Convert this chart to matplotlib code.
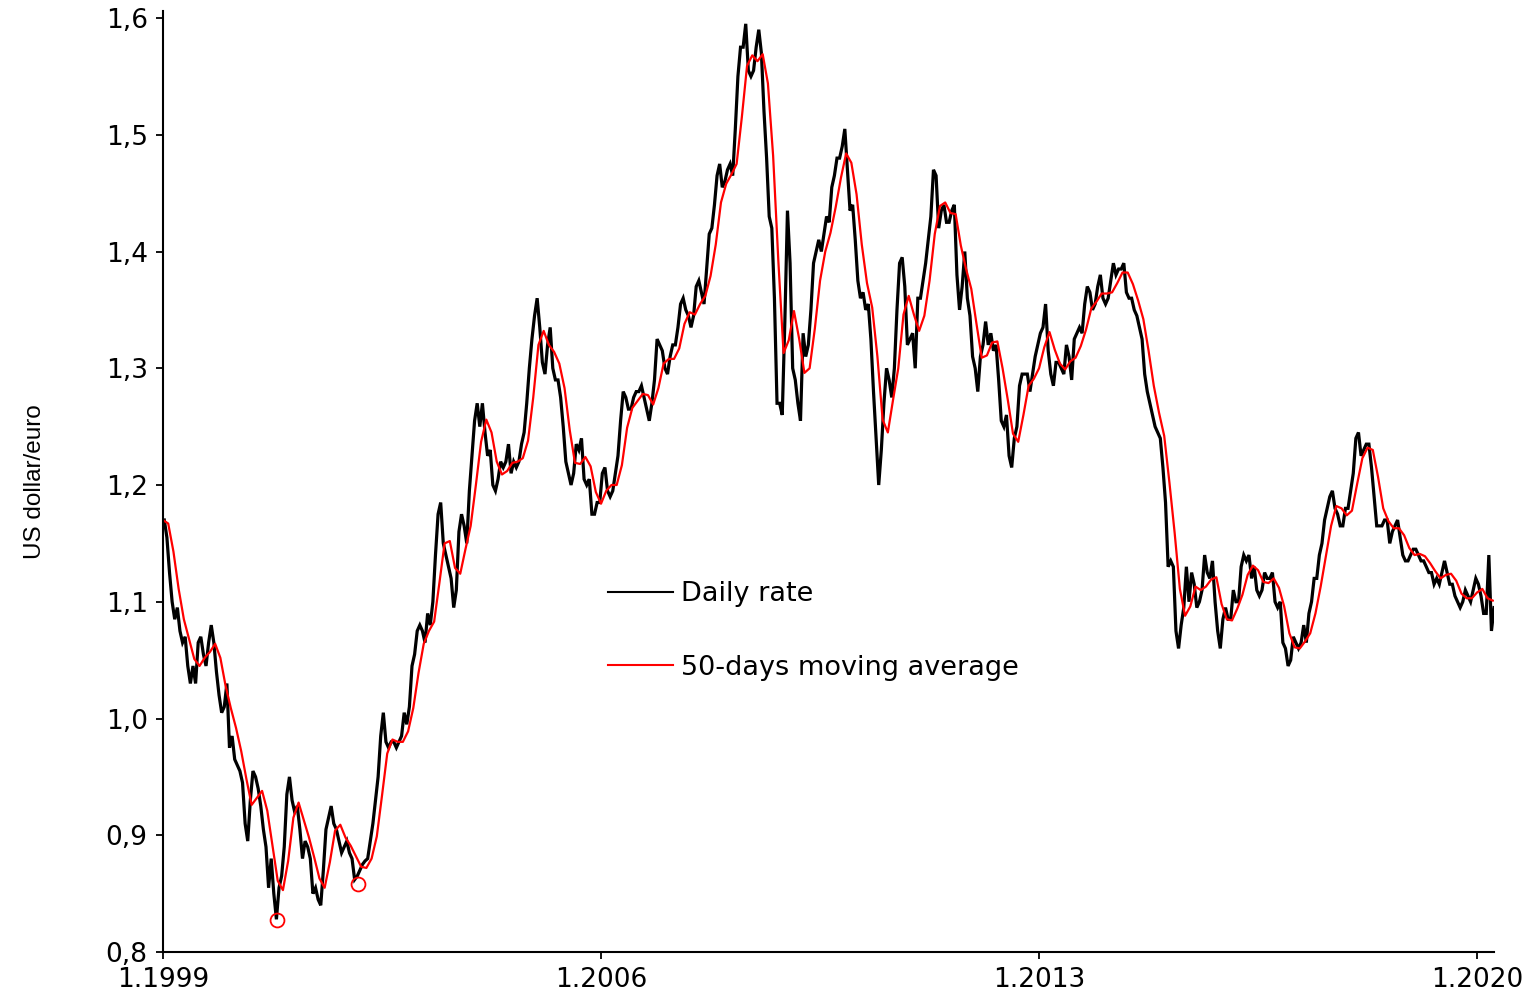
import matplotlib.pyplot as plt
import numpy as np

# USD per EUR, two readings per month (first half / second half), Jan 1999 - Apr 2020
daily_rate = [
    # 1999
    1.170, 1.155, 1.125, 1.100, 1.085, 1.095, 1.075, 1.065, 1.070, 1.045, 1.030, 1.045,
    1.030, 1.065, 1.070, 1.055, 1.045, 1.065, 1.080, 1.065, 1.040, 1.020, 1.005, 1.010,
    # 2000
    1.030, 0.975, 0.985, 0.965, 0.960, 0.955, 0.945, 0.910, 0.895, 0.930, 0.955, 0.950,
    0.940, 0.925, 0.905, 0.890, 0.855, 0.880, 0.850, 0.828, 0.855, 0.865, 0.890, 0.935,
    # 2001
    0.950, 0.930, 0.920, 0.925, 0.905, 0.880, 0.895, 0.890, 0.880, 0.850, 0.855, 0.845,
    0.840, 0.870, 0.905, 0.915, 0.925, 0.910, 0.905, 0.895, 0.885, 0.890, 0.895, 0.885,
    # 2002
    0.880, 0.862, 0.865, 0.870, 0.875, 0.878, 0.880, 0.895, 0.910, 0.930, 0.950, 0.985,
    1.005, 0.980, 0.975, 0.980, 0.980, 0.975, 0.980, 0.985, 1.005, 0.995, 1.010, 1.045,
    # 2003
    1.055, 1.075, 1.080, 1.075, 1.065, 1.090, 1.080, 1.100, 1.140, 1.175, 1.185, 1.150,
    1.140, 1.130, 1.120, 1.095, 1.110, 1.160, 1.175, 1.165, 1.150, 1.195, 1.225, 1.255,
    # 2004
    1.270, 1.250, 1.270, 1.245, 1.225, 1.230, 1.200, 1.195, 1.205, 1.220, 1.215, 1.220,
    1.235, 1.210, 1.220, 1.215, 1.220, 1.235, 1.245, 1.270, 1.300, 1.325, 1.345, 1.360,
    # 2005
    1.335, 1.305, 1.295, 1.320, 1.335, 1.300, 1.290, 1.290, 1.275, 1.250, 1.220, 1.210,
    1.200, 1.210, 1.235, 1.230, 1.240, 1.205, 1.200, 1.205, 1.175, 1.175, 1.185, 1.185,
    # 2006
    1.210, 1.215, 1.195, 1.190, 1.195, 1.210, 1.225, 1.255, 1.280, 1.275, 1.265, 1.265,
    1.275, 1.280, 1.280, 1.285, 1.275, 1.265, 1.255, 1.270, 1.290, 1.325, 1.320, 1.315,
    # 2007
    1.300, 1.295, 1.310, 1.320, 1.320, 1.335, 1.355, 1.360, 1.350, 1.345, 1.335, 1.345,
    1.370, 1.375, 1.365, 1.355, 1.385, 1.415, 1.420, 1.440, 1.465, 1.475, 1.455, 1.460,
    # 2008
    1.470, 1.475, 1.465, 1.505, 1.550, 1.575, 1.575, 1.595, 1.555, 1.550, 1.555, 1.575,
    1.590, 1.570, 1.520, 1.480, 1.430, 1.420, 1.360, 1.270, 1.270, 1.260, 1.340, 1.435,
    # 2009
    1.390, 1.300, 1.290, 1.270, 1.255, 1.330, 1.310, 1.320, 1.350, 1.390, 1.400, 1.410,
    1.400, 1.415, 1.430, 1.425, 1.455, 1.465, 1.480, 1.480, 1.490, 1.505, 1.470, 1.435,
    # 2010
    1.440, 1.410, 1.375, 1.360, 1.365, 1.350, 1.355, 1.325, 1.280, 1.240, 1.200, 1.230,
    1.270, 1.300, 1.290, 1.275, 1.300, 1.350, 1.390, 1.395, 1.370, 1.320, 1.325, 1.330,
    # 2011
    1.300, 1.360, 1.360, 1.375, 1.390, 1.410, 1.430, 1.470, 1.465, 1.420, 1.435, 1.440,
    1.425, 1.425, 1.435, 1.440, 1.380, 1.350, 1.370, 1.400, 1.360, 1.345, 1.310, 1.300,
    # 2012
    1.280, 1.310, 1.320, 1.340, 1.320, 1.330, 1.315, 1.320, 1.290, 1.255, 1.250, 1.260,
    1.225, 1.215, 1.240, 1.250, 1.285, 1.295, 1.295, 1.295, 1.280, 1.295, 1.310, 1.320,
    # 2013
    1.330, 1.335, 1.355, 1.315, 1.295, 1.285, 1.305, 1.305, 1.300, 1.295, 1.320, 1.310,
    1.290, 1.325, 1.330, 1.335, 1.330, 1.355, 1.370, 1.365, 1.350, 1.355, 1.370, 1.380,
    # 2014
    1.360, 1.355, 1.360, 1.375, 1.390, 1.380, 1.385, 1.385, 1.390, 1.365, 1.360, 1.360,
    1.350, 1.345, 1.335, 1.325, 1.295, 1.280, 1.270, 1.260, 1.250, 1.245, 1.240, 1.215,
    # 2015
    1.185, 1.130, 1.135, 1.130, 1.075, 1.060, 1.080, 1.095, 1.130, 1.100, 1.125, 1.115,
    1.095, 1.100, 1.110, 1.140, 1.125, 1.120, 1.135, 1.100, 1.075, 1.060, 1.085, 1.095,
    # 2016
    1.085, 1.085, 1.110, 1.100, 1.100, 1.130, 1.140, 1.135, 1.140, 1.120, 1.130, 1.110,
    1.105, 1.110, 1.125, 1.120, 1.120, 1.125, 1.100, 1.095, 1.100, 1.065, 1.060, 1.045,
    # 2017
    1.050, 1.070, 1.065, 1.060, 1.065, 1.080, 1.065, 1.090, 1.100, 1.120, 1.120, 1.140,
    1.150, 1.170, 1.180, 1.190, 1.195, 1.180, 1.175, 1.165, 1.165, 1.180, 1.180, 1.195,
    # 2018
    1.210, 1.240, 1.245, 1.225, 1.230, 1.235, 1.235, 1.215, 1.190, 1.165, 1.165, 1.165,
    1.170, 1.170, 1.150, 1.160, 1.165, 1.170, 1.155, 1.140, 1.135, 1.135, 1.140, 1.145,
    # 2019
    1.145, 1.140, 1.135, 1.135, 1.130, 1.125, 1.125, 1.115, 1.120, 1.115, 1.125, 1.135,
    1.125, 1.115, 1.115, 1.105, 1.100, 1.095, 1.100, 1.110, 1.105, 1.100, 1.110, 1.120,
    # 2020
    1.115, 1.105, 1.090, 1.090, 1.140, 1.075, 1.095,
]

# 50-day moving average, one value at the start of each month (1.1999 ... 4.2020)
moving_avg = [
    1.170,
    1.167, 1.143, 1.111, 1.085, 1.068, 1.051, 1.045, 1.052, 1.057, 1.064, 1.052, 1.028,
    1.009, 0.992, 0.972, 0.948, 0.926, 0.932, 0.938, 0.921, 0.891, 0.861, 0.853, 0.878,
    0.915, 0.928, 0.913, 0.898, 0.881, 0.863, 0.855, 0.877, 0.904, 0.909, 0.898, 0.891,
    0.882, 0.873, 0.872, 0.880, 0.899, 0.934, 0.970, 0.982, 0.980, 0.980, 0.989, 1.009,
    1.039, 1.064, 1.075, 1.083, 1.116, 1.150, 1.152, 1.129, 1.124, 1.145, 1.165, 1.200,
    1.237, 1.256, 1.245, 1.220, 1.209, 1.212, 1.219, 1.220, 1.223, 1.238, 1.275, 1.320,
    1.332, 1.320, 1.314, 1.304, 1.283, 1.247, 1.219, 1.218, 1.224, 1.216, 1.194, 1.184,
    1.195, 1.200, 1.200, 1.217, 1.249, 1.266, 1.272, 1.278, 1.277, 1.269, 1.283, 1.304,
    1.308, 1.308, 1.317, 1.338, 1.348, 1.346, 1.355, 1.362, 1.379, 1.406, 1.442, 1.458,
    1.466, 1.475, 1.515, 1.559, 1.568, 1.563, 1.569, 1.544, 1.482, 1.392, 1.313, 1.324,
    1.349, 1.325, 1.296, 1.300, 1.334, 1.375, 1.400, 1.416, 1.438, 1.463, 1.484, 1.476,
    1.449, 1.406, 1.373, 1.352, 1.310, 1.256, 1.245, 1.273, 1.300, 1.346, 1.362, 1.346,
    1.332, 1.345, 1.375, 1.415, 1.439, 1.442, 1.433, 1.432, 1.405, 1.385, 1.368, 1.338,
    1.309, 1.311, 1.322, 1.323, 1.300, 1.273, 1.244, 1.237, 1.260, 1.285, 1.291, 1.300,
    1.318, 1.331, 1.316, 1.304, 1.299, 1.306, 1.309, 1.319, 1.333, 1.351, 1.357, 1.364,
    1.364, 1.365, 1.373, 1.382, 1.382, 1.372, 1.358, 1.342, 1.315, 1.285, 1.262, 1.242,
    1.202, 1.159, 1.111, 1.088, 1.096, 1.113, 1.110, 1.113, 1.119, 1.121, 1.098, 1.085,
    1.084, 1.094, 1.106, 1.123, 1.131, 1.127, 1.117, 1.116, 1.120, 1.112, 1.096, 1.073,
    1.061, 1.060, 1.066, 1.073, 1.090, 1.113, 1.139, 1.165, 1.182, 1.180, 1.174, 1.178,
    1.201, 1.223, 1.232, 1.230, 1.207, 1.180, 1.169, 1.163, 1.163, 1.157, 1.146, 1.140,
    1.141, 1.139, 1.133, 1.126, 1.120, 1.123, 1.124, 1.118, 1.107, 1.103, 1.103, 1.108,
    1.111, 1.103, 1.101,
]

# the two marked lows
low_dates = [2000.82, 2002.12]
low_values = [0.827, 0.858]

x_ticks = [1999, 2006, 2013, 2020]
x_labels = ['1.1999', '1.2006', '1.2013', '1.2020']
y_ticks = [0.8, 0.9, 1.0, 1.1, 1.2, 1.3, 1.4, 1.5, 1.6]
y_labels = ['0,8', '0,9', '1,0', '1,1', '1,2', '1,3', '1,4', '1,5', '1,6']

t_daily = 1999 + (np.arange(len(daily_rate)) + 0.5) / 24
t_avg = 1999 + np.arange(len(moving_avg)) / 12

fig = plt.figure(figsize=(15.36, 9.97), dpi=100)
ax = fig.add_axes([163 / 1536, 45 / 997, (1494 - 163) / 1536, 941 / 997])

ax.plot(t_daily, daily_rate, color='black', lw=2.3, solid_joinstyle='miter',
        label='Daily rate')
ax.plot(t_avg, moving_avg, color='#ff0000', lw=1.6, label='50-days moving average')
ax.plot(low_dates, low_values, 'o', mfc='none', mec='#ff0000', ms=10, mew=1.3)

ax.set_xlim(1999, 2020.27)
ax.set_ylim(0.8, 1.606)
ax.set_xticks(x_ticks)
ax.set_xticklabels(x_labels)
ax.set_yticks(y_ticks)
ax.set_yticklabels(y_labels)
ax.tick_params(axis='both', direction='out', length=5, width=1.3,
               labelsize=19, pad=6)

ax.spines['top'].set_visible(False)
ax.spines['right'].set_visible(False)
ax.spines['left'].set_linewidth(1.5)
ax.spines['bottom'].set_linewidth(1.5)

ax.set_ylabel('US dollar/euro', fontsize=17.5, family='Liberation Sans')
ax.yaxis.set_label_coords(-0.088, 0.5)

leg = ax.legend(loc='center left', bbox_to_anchor=(0.396, 0.367),
                bbox_transform=fig.transFigure, frameon=False, fontsize=19.5,
                handlelength=2.4, handletextpad=0.3, labelspacing=1.75,
                borderpad=0, borderaxespad=0)
for h in leg.get_lines():
    h.set_linewidth(1.5)

fig.savefig('out.png', dpi=100)
